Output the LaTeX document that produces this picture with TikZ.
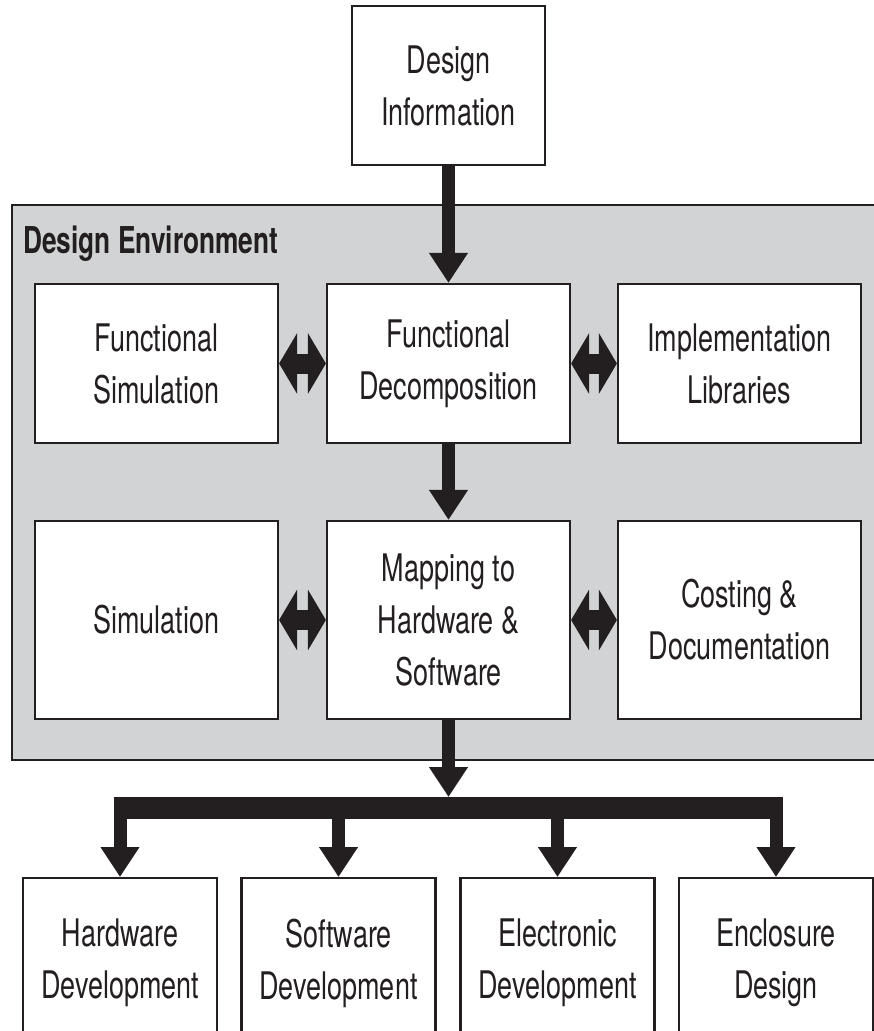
\documentclass[tikz,border=0pt]{standalone}
\usepackage{fontspec}
\setmainfont[FakeStretch=0.71]{TeX Gyre Heros}
\usetikzlibrary{arrows.meta}
\definecolor{ink}{RGB}{35,31,32}
\definecolor{envgray}{RGB}{209,211,212}
\begin{document}
\begin{tikzpicture}[x=1pt,y=1pt,
  box/.style={draw=ink,line width=2.2pt,fill=white,inner sep=0pt,align=center,text=ink,
              font=\fontsize{38}{52}\selectfont},
  widebox/.style={box,minimum width=243pt,minimum height=159pt},
  tallbox/.style={box,minimum width=243pt,minimum height=198pt},
  botbox/.style={box,minimum width=194pt,minimum height=170pt,anchor=north},
  down/.style={draw=ink,line width=13pt,-{Triangle[length=30pt,width=37pt]}},
  both/.style={draw=ink,line width=20pt,{Triangle[length=18pt,width=60pt]}-{Triangle[length=18pt,width=60pt]}}]
\useasboundingbox (0,0) rectangle (874,-1031);
\clip (0,0) rectangle (874,-1031);
% environment
\node[draw=ink,line width=2.2pt,fill=envgray,minimum width=880pt,minimum height=555pt,
      anchor=north west,inner sep=0pt] (env) at (11,-204) {};
\node[anchor=base west,inner sep=0pt,text=ink,font=\bfseries\fontsize{37}{44}\selectfont]
      (envtitle) at (23,-253) {Design Environment};
% boxes
\node[box,minimum width=193pt,minimum height=159pt] (di) at (448.5,-85.5) {Design\\Information};
\node[widebox] (fs) at (156.5,-363.5) {Functional\\Simulation};
\node[widebox] (fd) at (448.5,-363.5) {Functional\\Decomposition};
\node[widebox] (il) at (739.5,-363.5) {Implementation\\Libraries};
\node[tallbox] (sim) at (156.5,-620) {Simulation};
\node[tallbox] (map) at (448.5,-620) {Mapping to\\Hardware \&\\Software};
\node[tallbox] (cd) at (739.5,-620) {Costing \&\\Documentation};
\node[botbox] (hw) at (120,-877) {Hardware\\Development};
\node[botbox] (sw) at (338.5,-877) {Software\\Development};
\node[botbox] (el) at (557.5,-877) {Electronic\\Development};
\node[botbox] (en) at (776,-877) {Enclosure\\Design};
% arrows
\draw[down] (di.south) -- (fd.north);
\draw[down] (fd.south) -- (map.north);
\draw[both] (fs.east) -- (fd.west);
\draw[both] (fd.east) -- (il.west);
\draw[both] (sim.east) -- (map.west);
\draw[both] (map.east) -- (cd.west);
% bus
\coordinate (busL) at (120,-808);
\coordinate (busR) at (776,-808);
\coordinate (busTop) at (448.5,-797);
\draw[ink,line width=22pt] ([xshift=-6.5pt]busL) -- ([xshift=6.5pt]busR);
\draw[down] (map.south) -- (busTop);
\draw[down] (busL) -- (hw.north);
\draw[down] (busL -| sw.north) -- (sw.north);
\draw[down] (busL -| el.north) -- (el.north);
\draw[down] (busR) -- (en.north);
\end{tikzpicture}
\end{document}
